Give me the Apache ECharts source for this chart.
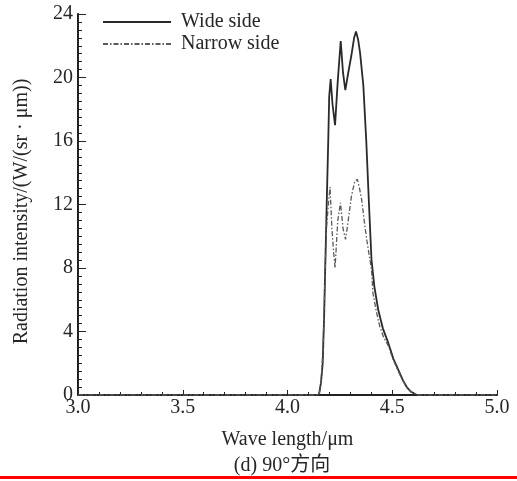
<!DOCTYPE html>
<html>
<head>
<meta charset="utf-8">
<script src="https://cdn.jsdelivr.net/npm/echarts@6/dist/echarts.min.js"></script>
<style>
html,body{margin:0;padding:0;background:#fff;}
#main{width:517px;height:481px;}
</style>
</head>
<body>
<div id="main"></div>
<script>
// 宽边 / 窄边 辐射强度曲线
var seriesNames = ['Wide side', 'Narrow side'];
var wideX = [3.0, 4.14, 4.150, 4.160, 4.168, 4.175, 4.180, 4.188, 4.195, 4.199, 4.206, 4.215, 4.227, 4.240, 4.254, 4.265, 4.276, 4.290, 4.305, 4.318, 4.327, 4.337, 4.346, 4.362, 4.376, 4.389, 4.401, 4.415, 4.433, 4.455, 4.481, 4.505, 4.529, 4.550, 4.569, 4.590, 4.617, 5.0];
var wideY = [0, 0, 0, 0.8, 2.0, 5.0, 8.0, 12.5, 16.3, 18.8, 19.9, 18.3, 17.0, 19.8, 22.3, 20.3, 19.2, 20.3, 21.4, 22.5, 22.9, 22.4, 21.6, 19.5, 16.0, 12.0, 8.5, 6.8, 5.37, 4.2, 3.28, 2.3, 1.58, 0.95, 0.5, 0.2, 0, 0];
var narrowX = [3.0, 4.14, 4.150, 4.160, 4.170, 4.178, 4.186, 4.195, 4.203, 4.212, 4.220, 4.227, 4.240, 4.253, 4.265, 4.277, 4.290, 4.305, 4.320, 4.333, 4.344, 4.354, 4.366, 4.378, 4.390, 4.401, 4.408, 4.425, 4.441, 4.460, 4.481, 4.505, 4.529, 4.550, 4.569, 4.590, 4.617, 5.0];
var narrowY = [0, 0, 0, 0.8, 3.0, 7.0, 10.5, 12.0, 13.1, 10.5, 9.0, 8.0, 11.0, 12.1, 10.5, 9.8, 11.0, 12.5, 13.4, 13.6, 13.0, 12.3, 11.0, 9.8, 8.8, 7.9, 6.4, 5.2, 4.3, 3.6, 3.1, 2.2, 1.5, 0.9, 0.5, 0.2, 0, 0];
var yTicks = [0, 4, 8, 12, 16, 20, 24];
var xTicks = [3.0, 3.5, 4.0, 4.5, 5.0];

function pairs(xs, ys){
    var out = [];
    for (var i = 0; i < xs.length; i++) out.push([xs[i], ys[i]]);
    return out;
}

var serif = '"Liberation Serif", "DejaVu Serif", serif';
var txt = '#262626';
var myChart = echarts.init(document.getElementById('main'));
var option = {
    animation: false,
    backgroundColor: '#fff',
    textStyle: { fontFamily: serif },
    grid: { left: 78, right: 20, top: 14, bottom: 86 },
    legend: {
        orient: 'vertical',
        left: 102,
        top: 12,
        padding: 0,
        itemWidth: 68,
        itemHeight: 12,
        itemGap: 2,
        itemStyle: { opacity: 0 },
        textStyle: { fontFamily: serif, fontSize: 20, color: txt, padding: [0, 0, 0, 5] },
        data: seriesNames
    },
    xAxis: {
        type: 'value',
        min: xTicks[0],
        max: xTicks[xTicks.length - 1],
        interval: 0.5,
        name: 'Wave length/μm',
        nameLocation: 'middle',
        nameGap: 35,
        nameTextStyle: { fontFamily: serif, fontSize: 20, color: txt },
        axisLine: { lineStyle: { color: '#222', width: 2 } },
        axisTick: { inside: true, length: 5, lineStyle: { color: '#222' } },
        minorTick: { show: true, splitNumber: 5, length: 3, lineStyle: { color: '#222' } },
        splitLine: { show: false },
        axisLabel: {
            fontFamily: serif, fontSize: 20, color: txt, margin: 3,
            formatter: function (v) { return v.toFixed(1); }
        }
    },
    yAxis: {
        type: 'value',
        min: yTicks[0],
        max: yTicks[yTicks.length - 1],
        interval: 4,
        name: 'Radiation intensity/(W/(sr · μm))',
        nameLocation: 'middle',
        nameGap: 46,
        nameTextStyle: { fontFamily: serif, fontSize: 20, color: txt, padding: [0, 14, 0, 0] },
        axisLine: { show: true, lineStyle: { color: '#222', width: 2 } },
        axisTick: { show: true, inside: true, length: 8, lineStyle: { color: '#222' } },
        minorTick: { show: true, splitNumber: 8, length: 4, lineStyle: { color: '#222' } },
        splitLine: { show: false },
        axisLabel: { fontFamily: serif, fontSize: 20, color: txt, margin: 5 }
    },
    series: [
        {
            name: seriesNames[0],
            type: 'line',
            symbol: 'none',
            data: pairs(wideX, wideY),
            lineStyle: { color: '#2a2a2a', width: 1.8, type: 'solid' },
            itemStyle: { color: '#2a2a2a' }
        },
        {
            name: seriesNames[1],
            type: 'line',
            symbol: 'none',
            data: pairs(narrowX, narrowY),
            lineStyle: { color: '#5a5a5a', width: 1.3, type: [5, 2, 1.5, 2] },
            itemStyle: { color: '#5a5a5a' }
        }
    ],
    graphic: [
        {
            type: 'text',
            x: 282,
            y: 466,
            style: {
                text: '(d) 90°方向',
                font: '20px "Liberation Serif", "Noto Sans CJK SC", serif',
                fill: txt,
                textAlign: 'center',
                textVerticalAlign: 'middle'
            }
        },
        {
            type: 'rect',
            left: 0,
            top: 476,
            shape: { width: 517, height: 3 },
            style: { fill: '#f00' }
        }
    ]
};
myChart.setOption(option);
window.onresize = function () {
    myChart.resize();
};
</script>
</body>
</html>
